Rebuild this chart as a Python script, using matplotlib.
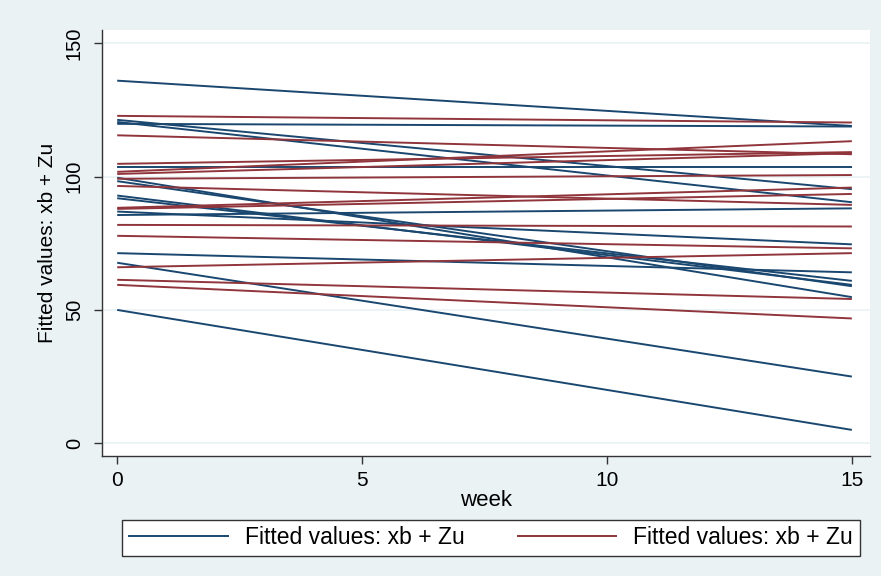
import matplotlib
matplotlib.use("Agg")
import matplotlib.pyplot as plt
from matplotlib.lines import Line2D

plt.rcParams['font.family'] = ['Liberation Sans', 'DejaVu Sans']

# Fitted values at the first and last week, one pair per subject
weeks = [0, 15]
blue_start = [136.0, 121.3, 120.5, 119.8, 103.5, 99.6, 98.3, 92.9, 91.9, 86.9, 85.6, 71.3, 67.7, 50.0]
blue_end   = [119.0, 95.3, 90.4, 118.8, 103.5, 54.8, 58.9, 59.4, 60.9, 74.6, 88.1, 64.1, 25.0, 5.0]
red_start = [122.8, 115.5, 104.8, 101.8, 101.0, 99.2, 96.5, 88.3, 87.9, 81.9, 77.8, 66.0, 61.3, 59.4]
red_end   = [120.3, 108.4, 109.2, 113.3, 108.8, 100.6, 89.4, 95.9, 93.5, 81.3, 73.1, 71.3, 54.1, 46.8]

x_ticks = [0, 5, 10, 15]
y_ticks = [0, 50, 100, 150]
legend_labels = ["Fitted values: xb + Zu", "Fitted values: xb + Zu"]
x_label = "week"
y_label = "Fitted values: xb + Zu"

BG = '#EAF2F3'
NAVY = '#1a476f'
MAROON = '#90353b'

fig = plt.figure(figsize=(8.81, 5.76), dpi=100, facecolor=BG)
ax = fig.add_axes([0.1158, 0.2083, 0.8717, 0.7396])
ax.set_facecolor('white')

for y in y_ticks:
    ax.axhline(y, color=BG, lw=1.2, zorder=0)

for s, e in zip(blue_start, blue_end):
    ax.plot(weeks, [s, e], color=NAVY, lw=1.4, solid_capstyle='butt', zorder=2)
for s, e in zip(red_start, red_end):
    ax.plot(weeks, [s, e], color=MAROON, lw=1.4, solid_capstyle='butt', zorder=2)

ax.set_xlim(-0.31, 15.37)
ax.set_ylim(-4.8, 155.0)
ax.set_xticks(x_ticks)
ax.set_yticks(y_ticks)
ax.tick_params(axis='both', direction='out', length=6, width=1, color='#333333')
ax.tick_params(axis='x', labelsize=15, pad=5)
ax.tick_params(axis='y', labelsize=14.5, pad=7)
for lab in ax.get_yticklabels():
    lab.set_rotation(90)
    lab.set_va('center')
for side in ['top', 'right']:
    ax.spines[side].set_visible(False)
for side in ['left', 'bottom']:
    ax.spines[side].set_color('#333333')
    ax.spines[side].set_linewidth(1)

ax.set_xlabel(x_label, fontsize=16, labelpad=0)
ax.set_ylabel(y_label, fontsize=15, labelpad=6)

handles = [Line2D([], [], color=NAVY, lw=1.4), Line2D([], [], color=MAROON, lw=1.4)]
leg = fig.legend(handles, legend_labels, loc='center', bbox_to_anchor=(0.5575, 0.066),
                 ncol=2, fontsize=16.5, frameon=True, fancybox=False, framealpha=1,
                 edgecolor='#333333', handlelength=4.3, handletextpad=0.75,
                 columnspacing=2.3, borderpad=0.3, borderaxespad=0)
leg.get_frame().set_linewidth(1)

fig.savefig('out.png', dpi=100, facecolor=BG)
